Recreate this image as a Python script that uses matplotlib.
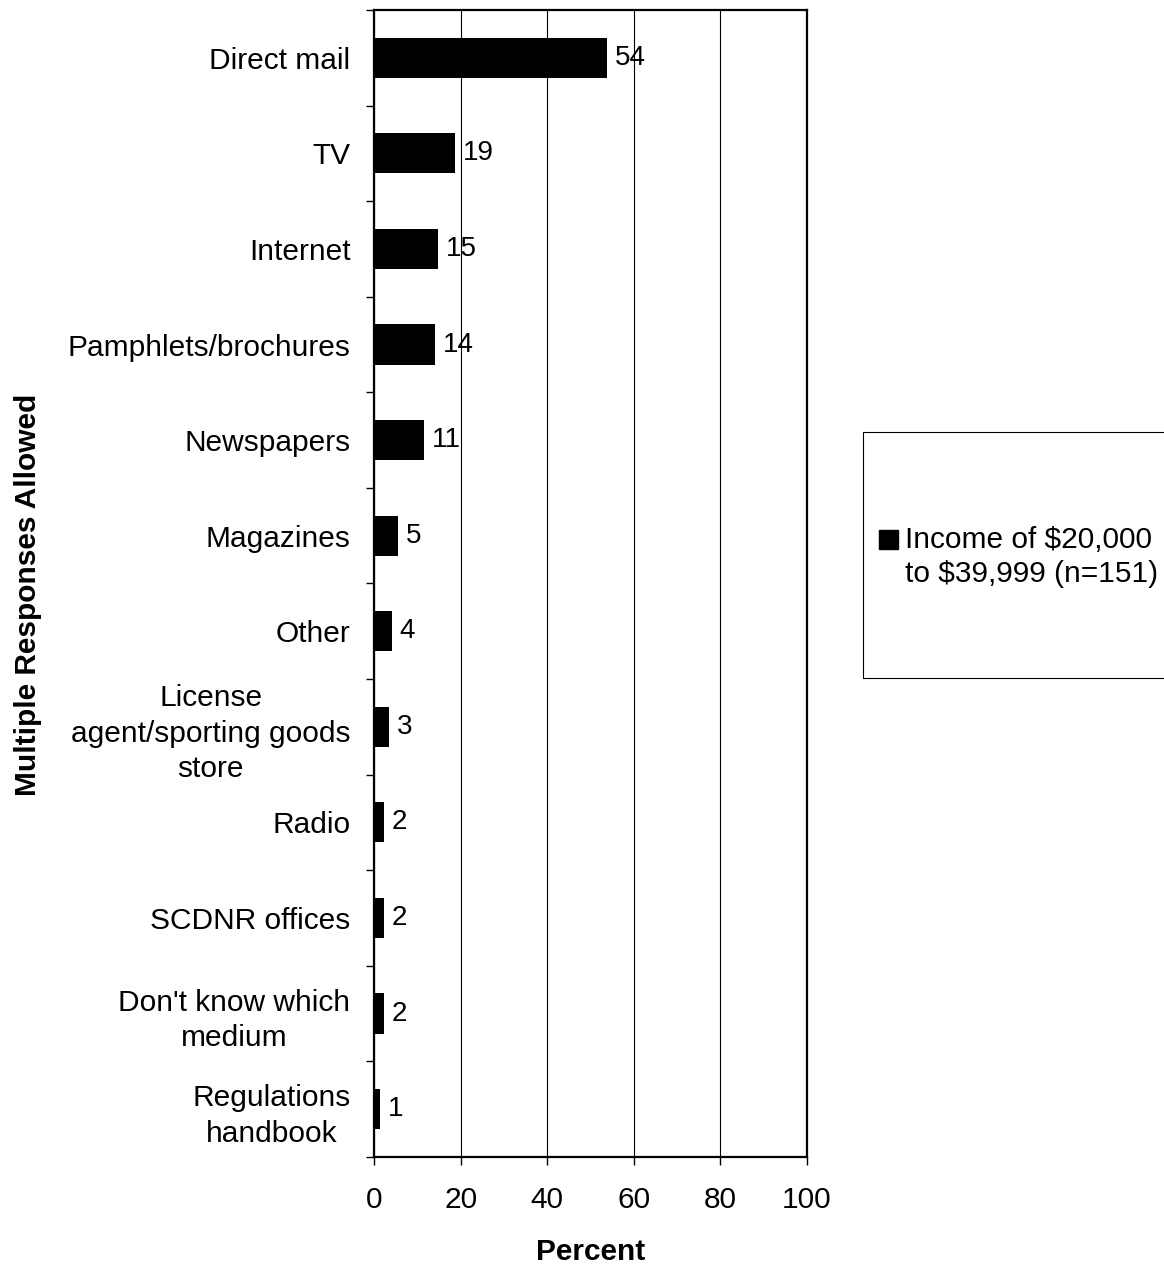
import matplotlib
matplotlib.use("Agg")
import matplotlib.pyplot as plt
import numpy as np
from matplotlib.patches import Rectangle

plt.rcParams['font.family'] = ['Liberation Sans', 'DejaVu Sans']

# data (top to bottom)
categories = ["Direct mail", "TV", "Internet", "Pamphlets/brochures", "Newspapers",
              "Magazines", "Other", "License\nagent/sporting goods\nstore", "Radio",
              "SCDNR offices", "Don't know which\nmedium", "Regulations\nhandbook"]
percents = [53.8, 18.8, 14.8, 14.2, 11.6, 5.5, 4.2, 3.5, 2.2, 2.2, 2.2, 1.5]
value_labels = ["54", "19", "15", "14", "11", "5", "4", "3", "2", "2", "2", "1"]
series_name = "Income of $20,000\nto $39,999 (n=151)"
x_ticks = [0, 20, 40, 60, 80, 100]

W, H = 1164, 1264
fig = plt.figure(figsize=(W / 100, H / 100), dpi=100)
ax = fig.add_axes([0.3213, 0.0847, 0.372, 0.9074])

n = len(categories)
y = np.arange(n)
ax.barh(y, percents, height=0.42, color="black", zorder=3)

# value labels next to bar ends
for yi, v, lab in zip(y, percents, value_labels):
    ax.annotate(lab, (v, yi), xytext=(5.5, 0), textcoords="offset points",
                va="center", ha="left", fontsize=20, zorder=4)

ax.set_xlim(0, 100)
ax.set_ylim(n - 0.5, -0.5)
ax.set_xticks(x_ticks)
ax.set_xticklabels([str(t) for t in x_ticks], fontsize=21.5)
ax.tick_params(axis="x", length=6, width=1, pad=15)

ax.set_yticks(y)
ax.set_yticklabels(categories, fontsize=21.5)
for t in ax.get_yticklabels():
    t.set_multialignment("center")
    t.set_linespacing(1.35)
ax.tick_params(axis="y", which="major", length=0, pad=17)
ax.set_yticks(np.arange(-0.5, n, 1.0), minor=True)
ax.tick_params(axis="y", which="minor", length=6, width=1)

ax.xaxis.grid(True, color="black", linewidth=0.8, zorder=0)
for s in ax.spines.values():
    s.set_linewidth(1.6)

ax.set_xlabel("Percent", fontsize=21.5, fontweight="bold", labelpad=17)
fig.text(0.024, 0.529, "Multiple Responses Allowed", rotation=90, fontsize=21.5,
         fontweight="bold", ha="center", va="center")

# legend box running off the right edge, with square key and two-line text
fig.patches.append(Rectangle((863 / W, 1 - 678 / H), 0.3, (678 - 432) / H,
                             transform=fig.transFigure, fill=False, edgecolor="black",
                             linewidth=0.8))
fig.patches.append(Rectangle((879 / W, 1 - 549 / H), 19 / W, 19 / H,
                             transform=fig.transFigure, facecolor="black",
                             edgecolor="black"))
fig.text(905 / W, 1 - 557 / H, series_name, fontsize=21.5, ha="left", va="center",
         linespacing=1.3)

fig.savefig("out.png", dpi=100)
